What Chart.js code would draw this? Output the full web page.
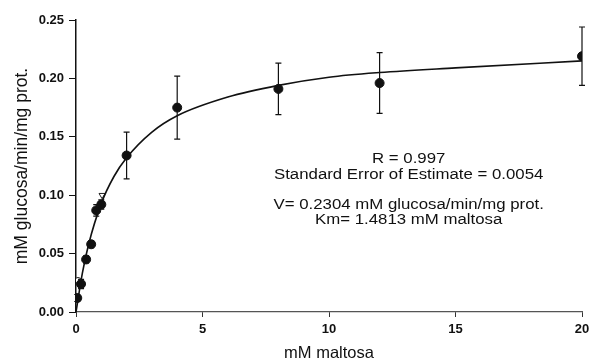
<!DOCTYPE html>
<html>
<head>
<meta charset="utf-8">
<script src="https://cdn.jsdelivr.net/npm/chart.js@4"></script>
<style>
  body { margin: 0; background: #fff; }
</style>
</head>
<body>
<canvas id="myChart" width="591" height="363"></canvas>
<script>
// measured points (mM maltosa vs activity)
const maltosa = [0.05, 0.2, 0.4, 0.6, 0.8, 1.0, 2, 4, 8, 12, 20];
const glucosa = [0.012, 0.024, 0.045, 0.058, 0.087, 0.092, 0.134, 0.175, 0.191, 0.196, 0.219];
const errors = [0.003, 0.004, 0.003, 0.003, 0.005, 0.004, 0.020, 0.027, 0.022, 0.026, 0.025];

// open markers near the origin
const openCircleX = [0.08];
const openCircleY = [0.027];
const openTriX = [1.03];
const openTriY = [0.100];

// fitted curve
const curveX = [0, 0.25, 0.5, 1, 1.5, 2, 3, 4, 6, 8, 10, 12, 15, 20];
const curveY = [0, 0.033, 0.058, 0.093, 0.116, 0.132, 0.154, 0.168, 0.184, 0.194, 0.201, 0.205, 0.209, 0.215];

const xTicks = [0, 5, 10, 15, 20];
const yTicks = [0, 0.05, 0.10, 0.15, 0.20, 0.25];

const notes = [
    "R = 0.997",
    "Standard Error of Estimate = 0.0054",
    "V= 0.2304 mM glucosa/min/mg prot.",
    "Km= 1.4813 mM maltosa"
];

const font = "'Liberation Sans', Arial, sans-serif";

// error bars
const errorBars = {
    id: 'errorBars',
    afterDatasetsDraw(chart) {
        const ctx = chart.ctx;
        const xs = chart.scales.x, ys = chart.scales.y;
        ctx.save();
        ctx.strokeStyle = '#111';
        ctx.lineWidth = 1.2;
        maltosa.forEach((m, i) => {
            const px = xs.getPixelForValue(m);
            const top = ys.getPixelForValue(glucosa[i] + errors[i]);
            const bot = ys.getPixelForValue(glucosa[i] - errors[i]);
            ctx.beginPath();
            ctx.moveTo(px, top); ctx.lineTo(px, bot);
            ctx.moveTo(px - 3, top); ctx.lineTo(px + 3, top);
            ctx.moveTo(px - 3, bot); ctx.lineTo(px + 3, bot);
            ctx.stroke();
        });
        ctx.restore();
    }
};

// text block with fit results (font a bit wide, like the original)
const fitText = {
    id: 'fitText',
    afterDraw(chart) {
        const ctx = chart.ctx;
        const cx = chart.scales.x.getPixelForValue(13.15);
        const y0 = chart.scales.y.getPixelForValue(0.131);
        const dy = [0, 16, 46, 61];
        const stretch = 1.2;
        ctx.save();
        ctx.fillStyle = '#111';
        ctx.font = '14px ' + font;
        ctx.textAlign = 'center';
        ctx.textBaseline = 'middle';
        ctx.translate(cx, y0);
        ctx.scale(stretch, 1);
        notes.forEach((t, i) => ctx.fillText(t, 0, dy[i]));
        ctx.restore();
    }
};

const ctx = document.getElementById('myChart').getContext('2d');
new Chart(ctx, {
    type: 'scatter',
    data: {
        datasets: [
            {
                label: 'fit',
                data: curveX.map((x, i) => ({ x: x, y: curveY[i] })),
                showLine: true,
                cubicInterpolationMode: 'monotone',
                borderColor: '#111',
                borderWidth: 1.6,
                pointRadius: 0
            },
            {
                label: 'data',
                data: maltosa.map((x, i) => ({ x: x, y: glucosa[i] })),
                backgroundColor: '#111',
                borderColor: '#111',
                pointRadius: 4.5
            },
            {
                label: 'open circle',
                data: openCircleX.map((x, i) => ({ x: x, y: openCircleY[i] })),
                backgroundColor: '#fff',
                borderColor: '#222',
                borderWidth: 1,
                pointRadius: 3
            },
            {
                label: 'open triangle',
                data: openTriX.map((x, i) => ({ x: x, y: openTriY[i] })),
                pointStyle: 'triangle',
                rotation: 180,
                backgroundColor: '#fff',
                borderColor: '#222',
                borderWidth: 1,
                pointRadius: 3.5
            }
        ]
    },
    options: {
        responsive: false,
        animation: false,
        layout: { padding: { top: 20, right: 0, left: 0, bottom: 0 } },
        plugins: {
            legend: { display: false },
            tooltip: { enabled: false }
        },
        scales: {
            x: {
                type: 'linear',
                min: 0,
                max: 20,
                afterFit: s => { s.height = 51; s.paddingRight = 9; },
                afterBuildTicks: s => { s.ticks = xTicks.map(v => ({ value: v })); },
                grid: { drawOnChartArea: false, tickLength: 5, color: '#333' },
                border: { color: '#555', width: 1.2 },
                ticks: {
                    color: '#111',
                    padding: 5,
                    font: { family: font, size: 13, weight: 'bold' }
                },
                title: {
                    display: true,
                    text: 'mM maltosa',
                    color: '#111',
                    padding: { top: 0, bottom: 0 },
                    font: { family: font, size: 16.5 }
                }
            },
            y: {
                min: 0,
                max: 0.25,
                afterFit: s => { s.width = 76; },
                afterBuildTicks: s => { s.ticks = yTicks.map(v => ({ value: v })); },
                grid: { drawOnChartArea: false, tickLength: 7, color: '#111' },
                border: { color: '#111', width: 1.5 },
                ticks: {
                    color: '#111',
                    padding: 5,
                    font: { family: font, size: 13, weight: 'bold' },
                    callback: v => v.toFixed(2)
                },
                title: {
                    display: true,
                    text: 'mM glucosa/min/mg prot.',
                    color: '#111',
                    padding: { top: 12, bottom: 0 },
                    font: { family: font, size: 17.5 }
                }
            }
        }
    },
    plugins: [errorBars, fitText]
});
</script>
</body>
</html>
